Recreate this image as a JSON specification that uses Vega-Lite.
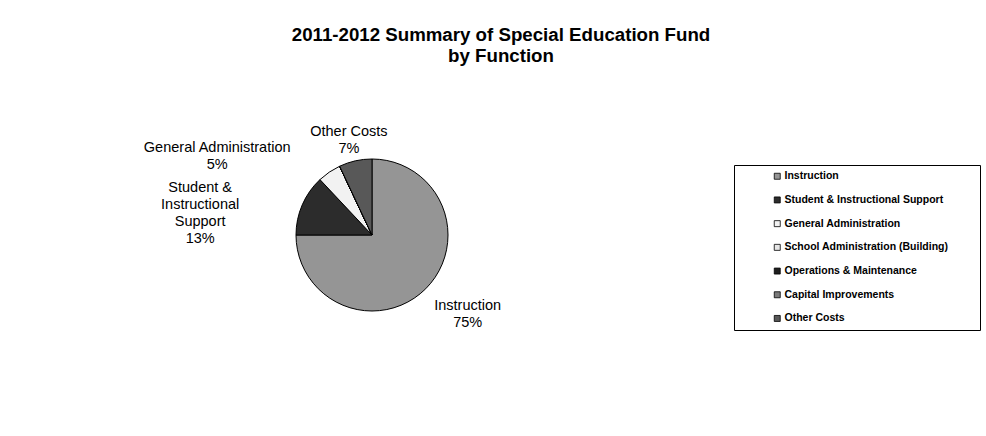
{
  "$schema": "https://vega.github.io/schema/vega-lite/v6.json",
  "width": 744,
  "height": 310,
  "autosize": {"type": "none"},
  "padding": {"left": 0, "top": 80, "right": 242, "bottom": 46},
  "background": "white",
  "config": {"view": {"stroke": null}, "font": "Liberation Sans"},
  "title": {
    "text": ["2011-2012 Summary of Special Education Fund", "by Function"],
    "anchor": "middle",
    "dx": 129,
    "offset": 14,
    "font": "Liberation Sans",
    "fontSize": 18.7,
    "fontWeight": "bold",
    "lineHeight": 21,
    "color": "black"
  },
  "data": {
    "values": [
      {"category": "Instruction", "idx": 1, "pct": 75, "label": "Instruction\n75%"},
      {"category": "Student & Instructional Support", "idx": 2, "pct": 13, "label": "Student &\nInstructional\nSupport\n13%"},
      {"category": "General Administration", "idx": 3, "pct": 5, "label": "General Administration\n5%"},
      {"category": "School Administration (Building)", "idx": 4, "pct": 0, "label": ""},
      {"category": "Operations & Maintenance", "idx": 5, "pct": 0, "label": ""},
      {"category": "Capital Improvements", "idx": 6, "pct": 0, "label": ""},
      {"category": "Other Costs", "idx": 7, "pct": 7, "label": "Other Costs\n7%"}
    ]
  },
  "encoding": {
    "theta": {"field": "pct", "type": "quantitative", "stack": true},
    "order": {"field": "idx", "type": "quantitative"}
  },
  "layer": [
    {
      "mark": {"type": "arc", "outerRadius": 76, "stroke": "black", "strokeWidth": 1},
      "encoding": {
        "color": {
          "field": "category",
          "type": "nominal",
          "scale": {
            "domain": ["Instruction", "Student & Instructional Support", "General Administration", "School Administration (Building)", "Operations & Maintenance", "Capital Improvements", "Other Costs"],
            "range": ["#959595", "#2c2c2c", "#f2f2f2", "#e6e6e6", "#1e1e1e", "#7a7a7a", "#585858"]
          },
          "legend": {
            "orient": "none",
            "legendX": 734,
            "legendY": 85,
            "title": "\u00a0",
            "titleOrient": "right",
            "titleFontSize": 10,
            "titlePadding": 26,
            "strokeColor": "black",
            "fillColor": "white",
            "padding": 6,
            "symbolType": "square",
            "symbolSize": 36,
            "symbolOffset": 32,
            "symbolStrokeColor": "black",
            "symbolStrokeWidth": 0.8,
            "labelFont": "Liberation Sans",
            "labelFontSize": 10.5,
            "labelFontWeight": "bold",
            "labelColor": "black",
            "labelOffset": 2,
            "labelLimit": 300,
            "rowPadding": 12.7
          }
        }
      }
    },
    {
      "mark": {"type": "text", "radius": 124, "dx": 8, "dy": -17, "fontSize": 14.5, "lineBreak": "\n", "lineHeight": 17, "font": "Liberation Sans", "align": "center", "baseline": "middle", "color": "black"},
      "encoding": {
        "detail": {"field": "category", "type": "nominal"},
        "text": {"field": "label", "type": "nominal"},
        "opacity": {"condition": {"test": "datum.category === 'Instruction'", "value": 1}, "value": 0}
      }
    },
    {
      "mark": {"type": "text", "radius": 172, "dx": -14, "dy": 21, "fontSize": 14.5, "lineBreak": "\n", "lineHeight": 17, "font": "Liberation Sans", "align": "center", "baseline": "middle", "color": "black"},
      "encoding": {
        "detail": {"field": "category", "type": "nominal"},
        "text": {"field": "label", "type": "nominal"},
        "opacity": {"condition": {"test": "datum.category === 'Student & Instructional Support'", "value": 1}, "value": 0}
      }
    },
    {
      "mark": {"type": "text", "radius": 110, "dx": -93, "dy": 3.5, "fontSize": 14.5, "lineBreak": "\n", "lineHeight": 17, "font": "Liberation Sans", "align": "center", "baseline": "middle", "color": "black"},
      "encoding": {
        "detail": {"field": "category", "type": "nominal"},
        "text": {"field": "label", "type": "nominal"},
        "opacity": {"condition": {"test": "datum.category === 'General Administration'", "value": 1}, "value": 0}
      }
    },
    {
      "mark": {"type": "text", "radius": 106, "fontSize": 14.5, "lineBreak": "\n", "lineHeight": 17, "font": "Liberation Sans", "align": "center", "baseline": "middle", "color": "black"},
      "encoding": {
        "detail": {"field": "category", "type": "nominal"},
        "text": {"field": "label", "type": "nominal"},
        "opacity": {"condition": {"test": "datum.category === 'Other Costs'", "value": 1}, "value": 0}
      }
    }
  ]
}
